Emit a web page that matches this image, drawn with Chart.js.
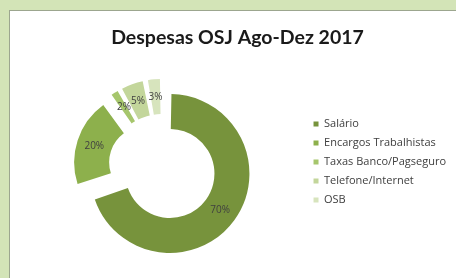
<!DOCTYPE html>
<html>
<head>
<meta charset="utf-8">
<script src="https://cdn.jsdelivr.net/npm/chart.js@4.4.0/dist/chart.umd.min.js"></script>
<style>
  html, body { margin: 0; padding: 0; }
  body { width: 456px; height: 278px; background: #d3e4b7; position: relative; overflow: hidden; }
  .painel { position: absolute; left: 9px; top: 10px; width: 447px; height: 268px; background: #fff;
            border-left: 1px solid #9ca68f; border-top: 1px solid #9ca68f; box-sizing: border-box; }
  #grafico { position: absolute; left: 0; top: 0; }
</style>
</head>
<body>
<div class="painel">
  <canvas id="grafico" width="446" height="267"></canvas>
</div>
<script>
// Dados do grafico
var categorias = ["Salário", "Encargos Trabalhistas", "Taxas Banco/Pagseguro", "Telefone/Internet", "OSB"];
var valores = [70, 20, 2, 5, 3];
var cores = ["#77933c", "#8db04c", "#a6c66c", "#c3d69b", "#d7e4bd"];

var total = valores.reduce(function (a, b) { return a + b; }, 0);
var EXPLOSAO = 19; // deslocamento das fatias (px)

// Chart.js desloca a fatia em offset/4 * (1 + fix), entao compensamos
function offsetFatia(c) {
    var circ = valores[c.dataIndex] / total * 2 * Math.PI;
    var fix = 1 - Math.sin(Math.min(Math.PI, circ));
    return 4 * EXPLOSAO / (1 + fix);
}

// Rotulos de porcentagem dentro das fatias
var rotulos = {
    id: 'rotulos',
    afterDatasetsDraw: function (chart) {
        var ctx = chart.ctx;
        var meta = chart.getDatasetMeta(0);
        ctx.save();
        ctx.font = '10px "Open Sans"';
        ctx.fillStyle = '#404040';
        ctx.textAlign = 'center';
        ctx.textBaseline = 'middle';
        meta.data.forEach(function (arc, i) {
            var p = arc.getProps(['x', 'y', 'startAngle', 'endAngle', 'innerRadius', 'outerRadius'], true);
            var meio = (p.startAngle + p.endAngle) / 2;
            var r = (p.innerRadius + p.outerRadius) / 2 + EXPLOSAO;
            ctx.fillText(Math.round(valores[i] / total * 100) + '%', p.x + Math.cos(meio) * r, p.y + Math.sin(meio) * r);
        });
        ctx.restore();
    }
};

var ctxDonut = document.getElementById("grafico").getContext("2d");
var grafico = new Chart(ctxDonut, {
    type: "doughnut",
    data: {
        labels: categorias,
        datasets: [{
            data: valores,
            backgroundColor: cores,
            borderWidth: 0,
            offset: offsetFatia,
            clip: false
        }]
    },
    options: {
        responsive: false,
        animation: false,
        radius: 70,
        cutout: '50%',
        layout: { padding: { left: 9, right: 0, top: 0, bottom: 64.5 } },
        plugins: {
            title: {
                display: true,
                text: "Despesas OSJ Ago-Dez 2017",
                color: '#1a1a1a',
                font: { family: 'Lato', size: 19.5, weight: 'bold' },
                padding: { top: 15, bottom: 73 }
            },
            legend: {
                position: 'right',
                align: 'end',
                labels: {
                    boxWidth: 5,
                    boxHeight: 5,
                    padding: 8,
                    color: '#404040',
                    font: { family: 'Open Sans', size: 11 }
                }
            },
            tooltip: { enabled: false }
        }
    },
    plugins: [rotulos]
});
</script>
</body>
</html>
